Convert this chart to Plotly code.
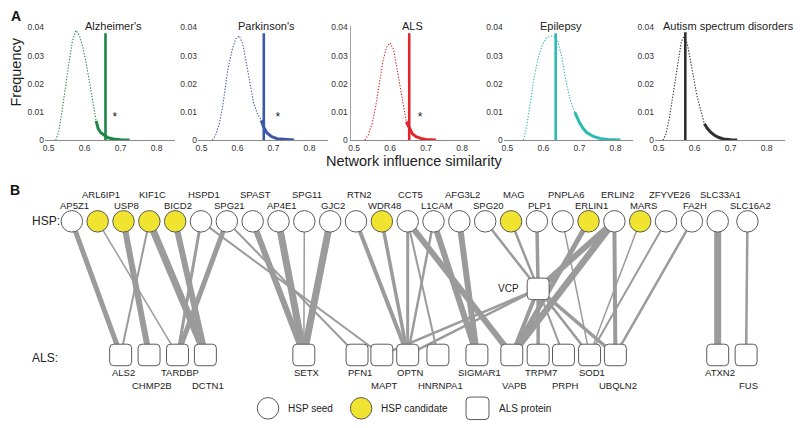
import plotly.graph_objects as go

W, H = 800, 428
FONT = "Arial, Liberation Sans, Helvetica, sans-serif"

# ------------------ Panel A data ------------------
panel_titles = ["Alzheimer's", "Parkinson's", "ALS", "Epilepsy", "Autism spectrum disorders"]
panel_colors = ["#1d8747", "#3b58a8", "#e1262b", "#2cbab2", "#303030"]

ad_null_x = [0.52, 0.528, 0.537, 0.546, 0.556, 0.566, 0.576, 0.586, 0.595, 0.605, 0.615, 0.625, 0.632]
ad_null_y = [0.0, 0.003, 0.010, 0.019, 0.027, 0.035, 0.039, 0.037, 0.033, 0.027, 0.020, 0.0125, 0.0068]
ad_tail_x = [0.632, 0.638, 0.645, 0.655, 0.665, 0.68, 0.70, 0.725]
ad_tail_y = [0.0068, 0.0040, 0.0026, 0.0016, 0.0008, 0.0004, 0.0001, 0.0]

pd_null_x = [0.53, 0.54, 0.55, 0.56, 0.573, 0.585, 0.595, 0.605, 0.615, 0.627, 0.636, 0.645, 0.655, 0.666]
pd_null_y = [0.0, 0.002, 0.006, 0.013, 0.025, 0.032, 0.036, 0.037, 0.034, 0.025, 0.019, 0.013, 0.0095, 0.007]
pd_tail_x = [0.666, 0.673, 0.682, 0.695, 0.71, 0.73, 0.757]
pd_tail_y = [0.007, 0.0045, 0.0025, 0.0012, 0.0005, 0.0002, 0.0]

als_null_x = [0.53, 0.54, 0.55, 0.56, 0.57, 0.58, 0.59, 0.60, 0.61, 0.62, 0.63, 0.638, 0.645]
als_null_y = [0.0, 0.002, 0.006, 0.012, 0.020, 0.028, 0.033, 0.0345, 0.032, 0.025, 0.017, 0.011, 0.0065]
als_tail_x = [0.645, 0.65, 0.655, 0.662, 0.672, 0.685, 0.70, 0.727]
als_tail_y = [0.0065, 0.0052, 0.0035, 0.0022, 0.0012, 0.0006, 0.0002, 0.0]

ep_null_x = [0.545, 0.552, 0.56, 0.573, 0.585, 0.597, 0.61, 0.62, 0.63, 0.64, 0.65, 0.664, 0.675, 0.687]
ep_null_y = [0.0, 0.004, 0.010, 0.0215, 0.029, 0.034, 0.0365, 0.037, 0.0368, 0.035, 0.030, 0.020, 0.014, 0.0099]
ep_tail_x = [0.687, 0.70, 0.71, 0.72, 0.74, 0.76, 0.78, 0.814]
ep_tail_y = [0.0099, 0.0062, 0.0042, 0.0027, 0.0012, 0.0005, 0.0002, 0.0]

au_null_x = [0.512, 0.52, 0.53, 0.542, 0.553, 0.563, 0.571, 0.58, 0.59, 0.597, 0.606, 0.616, 0.627]
au_null_y = [0.0, 0.002, 0.008, 0.018, 0.028, 0.035, 0.037, 0.034, 0.027, 0.0216, 0.016, 0.011, 0.0058]
au_tail_x = [0.627, 0.635, 0.645, 0.655, 0.667, 0.68, 0.70, 0.718]
au_tail_y = [0.0058, 0.0042, 0.0027, 0.0017, 0.0009, 0.0004, 0.0001, 0.0]

null_x = [ad_null_x, pd_null_x, als_null_x, ep_null_x, au_null_x]
null_y = [ad_null_y, pd_null_y, als_null_y, ep_null_y, au_null_y]
tail_x = [ad_tail_x, pd_tail_x, als_tail_x, ep_tail_x, au_tail_x]
tail_y = [ad_tail_y, pd_tail_y, als_tail_y, ep_tail_y, au_tail_y]

observed_similarity = [0.658, 0.673, 0.653, 0.634, 0.574]
observed_bar_top = [0.038, 0.038, 0.038, 0.038, 0.0383]
star_x = [0.684, 0.712, 0.683, None, None]
star_y = 0.0078

x_ticks = [0.5, 0.6, 0.7, 0.8]
y_ticks = [0, 0.01, 0.02, 0.03, 0.04]
y_ticklabels = ["0", "0.01", "0.02", "0.03", "0.04"]

# ------------------ Panel B data ------------------
hsp_genes = ["AP5Z1", "ARL6IP1", "USP8", "KIF1C", "BICD2", "HSPD1", "SPG21", "SPAST", "AP4E1",
             "SPG11", "GJC2", "RTN2", "WDR48", "CCT5", "L1CAM", "AFG3L2", "SPG20", "MAG", "PLP1",
             "PNPLA6", "ERLIN1", "ERLIN2", "MARS", "ZFYVE26", "FA2H", "SLC33A1", "SLC16A2"]
hsp_candidates = ["ARL6IP1", "USP8", "KIF1C", "BICD2", "WDR48", "MAG", "ERLIN1", "MARS"]
als_genes = ["ALS2", "CHMP2B", "TARDBP", "DCTN1", "SETX", "PFN1", "MAPT", "OPTN", "HNRNPA1",
             "SIGMAR1", "VAPB", "TRPM7", "PRPH", "SOD1", "UBQLN2", "ATXN2", "FUS"]
hub_gene = "VCP"

edge_src = ["AP5Z1", "ARL6IP1", "USP8", "KIF1C", "KIF1C", "BICD2", "HSPD1", "SPG21", "HSPD1", "SPG21",
            "SPAST", "AP4E1", "SPG11", "GJC2", "RTN2", "WDR48", "CCT5", "CCT5", "L1CAM", "CCT5",
            "L1CAM", "AFG3L2", "VCP", "VCP", "SPG20", "MAG", "PLP1", "VCP", "PNPLA6", "ERLIN1",
            "ERLIN2", "ERLIN2", "ERLIN2", "MARS", "ZFYVE26", "FA2H", "VCP", "VCP", "VCP", "VCP",
            "SLC33A1", "SLC16A2"]
edge_dst = ["ALS2", "TARDBP", "CHMP2B", "ALS2", "DCTN1", "DCTN1", "TARDBP", "TARDBP", "MAPT", "PFN1",
            "SETX", "SETX", "SETX", "SETX", "OPTN", "OPTN", "OPTN", "HNRNPA1", "OPTN", "VAPB",
            "SIGMAR1", "SIGMAR1", "MAPT", "OPTN", "VCP", "VCP", "VCP", "TRPM7", "SOD1", "VAPB",
            "VAPB", "VCP", "UBQLN2", "SOD1", "SOD1", "UBQLN2", "PRPH", "SOD1", "UBQLN2", "VAPB",
            "ATXN2", "FUS"]
edge_weight = [5, 1.5, 6, 2, 7, 6, 3, 5, 2, 2,
               6, 7, 1.5, 7, 4, 3.5, 3, 2, 2.5, 6,
               6, 6, 2.5, 2.5, 2.5, 2.5, 3.5, 3.5, 1.5, 5,
               6.5, 6, 4, 1.5, 2, 2.5, 2, 2.5, 3.5, 4,
               7, 2.5]

# ------------------ layout helpers (pixel geometry) ------------------
hsp_slot = list(range(26)) + [26.15]
als_slot = [1.89, 2.99, 4.09, 5.17, 8.98, 11.04, 12.0, 13.0, 14.17, 15.68, 17.03, 18.05, 19.03,
            20.04, 21.04, 25.0, 26.1]
als_label_row = [0, 1, 0, 1, 0, 0, 1, 0, 1, 0, 1, 0, 1, 0, 1, 0, 1]
hub_slot, hub_y = 18.05, 291

X0, DX = 70.0, 25.9
Y_HSP, Y_ALS = 222.0, 358.5

def sx(s):
    return X0 + DX * s

pos = {}
for g, s in zip(hsp_genes, hsp_slot):
    pos[g] = (sx(s), Y_HSP)
for g, s in zip(als_genes, als_slot):
    pos[g] = (sx(s), Y_ALS)
pos[hub_gene] = (sx(hub_slot), hub_y)

fig = go.Figure()

# ------------------ Panel A plotting ------------------
zero_px = [46.7, 200.0, 353.0, 506.7, 658.3]
PX_PER = 361.0
XR = [0.49, 0.85]
y_bottom_px, y_range = 139.0, [0, 0.0405]
y_top_px = y_bottom_px - 0.0405 * 2875

layout_axes = {}
for i in range(5):
    xa = "xaxis" if i == 0 else f"xaxis{i+1}"
    ya = "yaxis" if i == 0 else f"yaxis{i+1}"
    xr = "x" if i == 0 else f"x{i+1}"
    yr = "y" if i == 0 else f"y{i+1}"
    d0 = zero_px[i] + (XR[0] - 0.5) * PX_PER
    d1 = zero_px[i] + (XR[1] - 0.5) * PX_PER
    layout_axes[xa] = dict(domain=[d0 / W, d1 / W], range=XR, tickvals=x_ticks,
                           ticktext=[str(t) for t in x_ticks], showline=True, linecolor="#8a8a8a",
                           linewidth=1, showgrid=False, zeroline=False, ticks="",
                           tickfont=dict(size=8.5, color="#333", family=FONT), anchor=yr,
                           fixedrange=True)
    layout_axes[ya] = dict(domain=[1 - y_bottom_px / H, 1 - y_top_px / H], range=y_range,
                           tickvals=y_ticks, ticktext=y_ticklabels,
                           showline=(i == 2), linecolor="#a0a0a0", linewidth=1,
                           showgrid=False, zeroline=False, ticks="",
                           tickfont=dict(size=8.5, color="#333", family=FONT), anchor=xr,
                           fixedrange=True)
    c = panel_colors[i]
    fig.add_trace(go.Scatter(x=null_x[i], y=null_y[i], mode="lines",
                             line=dict(color=c, width=1.1, dash="1.3px,1.6px"),
                             xaxis=xr, yaxis=yr, showlegend=False, hoverinfo="skip"))
    fig.add_trace(go.Scatter(x=tail_x[i], y=tail_y[i], mode="lines",
                             line=dict(color=c, width=3),
                             xaxis=xr, yaxis=yr, showlegend=False, hoverinfo="skip"))
    fig.add_trace(go.Scatter(x=[observed_similarity[i], observed_similarity[i]],
                             y=[0, observed_bar_top[i]], mode="lines",
                             line=dict(color=c, width=2.6),
                             xaxis=xr, yaxis=yr, showlegend=False, hoverinfo="skip"))
    if star_x[i] is not None:
        fig.add_trace(go.Scatter(x=[star_x[i]], y=[star_y], mode="text", text=["*"],
                                 textfont=dict(size=12, color="#222", family=FONT),
                                 xaxis=xr, yaxis=yr, showlegend=False, hoverinfo="skip"))

title_center_px = [111.7, 265.0, 412.0, 560.0, 728.5]
annotations = []
for t, cx in zip(panel_titles, title_center_px):
    annotations.append(dict(x=cx / W, y=1 - 22 / H, xref="paper", yref="paper", text=t,
                            showarrow=False, font=dict(size=11, color="#222", family=FONT),
                            xanchor="center", yanchor="middle"))
annotations.append(dict(x=413 / W, y=1 - 160 / H, xref="paper", yref="paper",
                        text="Network influence similarity", showarrow=False,
                        font=dict(size=14.5, color="#222", family=FONT),
                        xanchor="center", yanchor="middle"))
annotations.append(dict(x=14 / W, y=1 - 69 / H, xref="paper", yref="paper", text="Frequency",
                        textangle=-90, showarrow=False,
                        font=dict(size=14.5, color="#222", family=FONT),
                        xanchor="center", yanchor="middle"))
annotations.append(dict(x=14 / W, y=1 - 12 / H, xref="paper", yref="paper", text="<b>A</b>",
                        showarrow=False, font=dict(size=14, color="#111", family=FONT),
                        xanchor="center", yanchor="middle"))
annotations.append(dict(x=13 / W, y=1 - 190 / H, xref="paper", yref="paper", text="<b>B</b>",
                        showarrow=False, font=dict(size=14, color="#111", family=FONT),
                        xanchor="center", yanchor="middle"))

# ------------------ Panel B plotting (pixel-space axis) ------------------
layout_axes["xaxis6"] = dict(domain=[0, 1], range=[0, W], visible=False, fixedrange=True,
                             anchor="y6")
layout_axes["yaxis6"] = dict(domain=[0, 1], range=[H, 0], visible=False, fixedrange=True,
                             anchor="x6")

EDGE = "#9b9b9b"
for s, d, w in zip(edge_src, edge_dst, edge_weight):
    (x1, y1), (x2, y2) = pos[s], pos[d]
    fig.add_trace(go.Scatter(x=[x1, x2], y=[y1, y2], mode="lines",
                             line=dict(color=EDGE, width=w),
                             xaxis="x6", yaxis="y6", showlegend=False, hoverinfo="skip"))

fills = ["#f1e431" if g in hsp_candidates else "white" for g in hsp_genes]
fig.add_trace(go.Scatter(x=[pos[g][0] for g in hsp_genes], y=[pos[g][1] for g in hsp_genes],
                         mode="markers",
                         marker=dict(size=21.5, color=fills, line=dict(color="#5a5a5a", width=1)),
                         xaxis="x6", yaxis="y6", showlegend=False, hoverinfo="skip"))

# legend circles
LEG_Y = 413
fig.add_trace(go.Scatter(x=[266.7, 360.0], y=[LEG_Y, LEG_Y], mode="markers",
                         marker=dict(size=21.5, color=["white", "#f1e431"],
                                     line=dict(color="#5a5a5a", width=1)),
                         xaxis="x6", yaxis="y6", showlegend=False, hoverinfo="skip"))

shapes = []

def rounded_square(cx, cy, half=11.0, r=4.0):
    x0, x1, y0, y1 = cx - half, cx + half, cy - half, cy + half
    path = (f"M {x0+r},{y0} L {x1-r},{y0} Q {x1},{y0} {x1},{y0+r} L {x1},{y1-r} "
            f"Q {x1},{y1} {x1-r},{y1} L {x0+r},{y1} Q {x0},{y1} {x0},{y1-r} "
            f"L {x0},{y0+r} Q {x0},{y0} {x0+r},{y0} Z")
    return dict(type="path", path=path, xref="x6", yref="y6", fillcolor="white",
                line=dict(color="#5a5a5a", width=1), layer="above")

for g in als_genes + [hub_gene]:
    shapes.append(rounded_square(*pos[g]))
shapes.append(rounded_square(476.7, LEG_Y, half=11.5))

LBL = dict(size=9.5, color="#222", family=FONT)
for i, g in enumerate(hsp_genes):
    ly = 195 if i % 2 == 1 else 206
    annotations.append(dict(x=pos[g][0] + 3, y=ly, xref="x6", yref="y6", text=g,
                            showarrow=False, font=LBL, xanchor="center", yanchor="middle"))
for g, r in zip(als_genes, als_label_row):
    ly = 376 if r == 0 else 389.5
    annotations.append(dict(x=pos[g][0] + 2.5, y=ly, xref="x6", yref="y6", text=g,
                            showarrow=False, font=LBL, xanchor="center", yanchor="middle"))
annotations.append(dict(x=pos[hub_gene][0] - 17, y=pos[hub_gene][1], xref="x6", yref="y6",
                        text=hub_gene, showarrow=False, font=dict(size=10, color="#222", family=FONT),
                        xanchor="right", yanchor="middle"))
annotations.append(dict(x=28, y=Y_HSP, xref="x6", yref="y6", text="HSP:", showarrow=False,
                        font=dict(size=12, color="#222", family=FONT),
                        xanchor="left", yanchor="middle"))
annotations.append(dict(x=28, y=Y_ALS + 3, xref="x6", yref="y6", text="ALS:", showarrow=False,
                        font=dict(size=12, color="#222", family=FONT),
                        xanchor="left", yanchor="middle"))
for tx, txt in [(285, "HSP seed"), (378, "HSP candidate"), (496.5, "ALS protein")]:
    annotations.append(dict(x=tx, y=LEG_Y, xref="x6", yref="y6", text=txt, showarrow=False,
                            font=dict(size=10, color="#222", family=FONT),
                            xanchor="left", yanchor="middle"))

fig.update_layout(width=W, height=H, autosize=False,
                  margin=dict(l=0, r=0, t=0, b=0, pad=0),
                  paper_bgcolor="white", plot_bgcolor="rgba(0,0,0,0)",
                  showlegend=False, annotations=annotations, shapes=shapes,
                  hovermode=False,
                  font=dict(family=FONT, color="#222"), **layout_axes)

fig.write_html("out.html", config={"displayModeBar": False, "staticPlot": True},
               post_script="document.body.style.margin='0px';document.body.style.padding='0px';")
